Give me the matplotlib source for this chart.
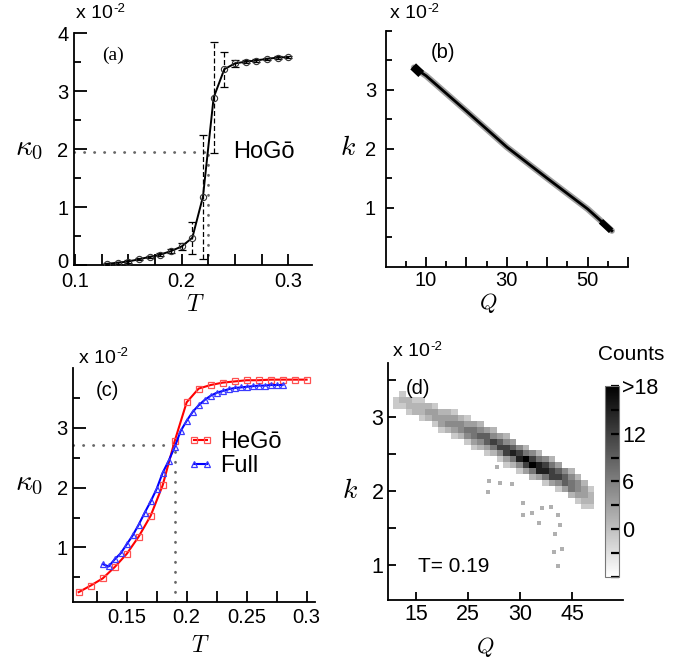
import numpy as np
import matplotlib.pyplot as plt
from matplotlib.transforms import ScaledTranslation

plt.rcParams.update({
    'font.family': ['Liberation Sans', 'DejaVu Sans'],
    'mathtext.fontset': 'cm',
    'font.size': 14.5,
})

W, H = 693, 663

# (a) HoGo: kappa_0 (x 1e-2) vs T, with error bars
t_a = [0.13, 0.14, 0.15, 0.16, 0.17, 0.18, 0.19, 0.20, 0.21,
       0.22, 0.23, 0.24, 0.25, 0.26, 0.27, 0.28, 0.29, 0.30]
kappa_a = [0.02, 0.04, 0.06, 0.10, 0.14, 0.18, 0.24, 0.32, 0.47,
           1.18, 2.89, 3.38, 3.48, 3.51, 3.53, 3.56, 3.58, 3.59]
err_a = [0.02, 0.02, 0.02, 0.02, 0.02, 0.02, 0.03, 0.06, 0.28,
         1.07, 0.96, 0.30, 0.06, 0.03, 0.02, 0.02, 0.02, 0.02]
tc_a, kc_a = 0.225, 1.95

# (b) k vs Q (x 1e-2), dense narrow band
q_b = [7.0, 10, 20, 30, 40, 50, 56.0]
k_b = [3.38, 3.24, 2.64, 2.03, 1.50, 0.98, 0.61]
head_q, head_k = [6.8, 8.8], [3.40, 3.27]
tail_q, tail_k = [53.3, 55.8], [0.77, 0.61]

# (c) HeGo vs Full model
t_hego = [0.11, 0.12, 0.13, 0.14, 0.15, 0.16, 0.17, 0.18, 0.19, 0.20,
          0.21, 0.22, 0.23, 0.24, 0.25, 0.26, 0.27, 0.28, 0.29, 0.30]
kappa_hego = [0.25, 0.36, 0.48, 0.67, 0.89, 1.18, 1.53, 2.04, 2.78, 3.43,
              3.66, 3.72, 3.76, 3.78, 3.80, 3.80, 3.81, 3.81, 3.81, 3.81]
t_full = [0.130, 0.135, 0.140, 0.145, 0.150, 0.155, 0.160, 0.165, 0.170,
          0.175, 0.180, 0.185, 0.190, 0.195, 0.200, 0.205, 0.210, 0.215,
          0.220, 0.225, 0.230, 0.235, 0.240, 0.245, 0.250, 0.255, 0.260,
          0.265, 0.270, 0.275, 0.280]
kappa_full = [0.72, 0.68, 0.80, 0.90, 1.05, 1.20, 1.38, 1.58, 1.77,
              1.98, 2.25, 2.45, 2.68, 2.95, 3.12, 3.27, 3.38, 3.47,
              3.54, 3.59, 3.62, 3.65, 3.67, 3.68, 3.69, 3.70, 3.71,
              3.71, 3.72, 3.72, 3.72]
tc_c, kc_c = 0.19, 2.71

# (d) 2D histogram of (Q, k) at T = 0.19
q_edges = 10.5 + 1.25 * np.arange(32)
k_edges = 3.35 - 0.08 * np.arange(21)
level_counts = [np.nan, -1, 1, 3, 5, 7, 9, 12, 15, 18]
# each row: (first column, levels 1-9 per cell)
band_rows = [
    (1, "1"),
    (0, "12211"),
    (0, "1122221"),
    (2, "12233221"),
    (4, "12333321"),
    (6, "13444332"),
    (7, "123455432"),
    (9, "124566432"),
    (11, "13467643"),
    (12, "123577642"),
    (14, "124787542"),
    (16, "135897542"),
    (17, "124798753"),
    (19, "135887642"),
    (21, "23577642"),
    (23, "1346542"),
    (25, "135431"),
    (27, "2332"),
    (28, "122"),
    (29, "11"),
]
out_q = [30.6, 29.1, 28.9, 31.1, 33.5, 35.5, 35.6, 37.2, 39.1, 40.9,
         42.2, 38.7, 42.6, 41.7, 41.5, 43.1, 42.3]
out_k = [2.33, 2.13, 1.99, 2.11, 2.10, 1.84, 1.68, 1.70, 1.77, 1.79,
         1.68, 1.57, 1.54, 1.42, 1.17, 1.21, 0.99]


def add_axes(fig, l, t, r, b):
    return fig.add_axes([l / W, 1 - b / H, (r - l) / W, (b - t) / H])


def style(ax):
    for s in ('top', 'right'):
        ax.spines[s].set_visible(False)
    for s in ('left', 'bottom'):
        ax.spines[s].set_linewidth(1.3)
    ax.tick_params(which='both', direction='in', width=1.3)


def ftext(fig, x, y, s, **kw):
    fig.text(x / W, 1 - y / H, s, **kw)


def sci_label(fig, x, y):
    ftext(fig, x, y, 'x 10', fontsize=14, va='baseline')
    ftext(fig, x + 37, y - 6.5, '-2', fontsize=9.5, va='baseline')


dots = dict(color='#666666', lw=2, linestyle=(0, (0.1, 3.5)),
            dash_capstyle='round', zorder=1)

fig = plt.figure(figsize=(W / 100, H / 100), dpi=100)

# ---- (a)
ax = add_axes(fig, 74, 33.3, 311.7, 265)
style(ax)
ax.plot([0.099, tc_a], [kc_a, kc_a], **dots)
ax.plot([tc_a, tc_a], [0, kc_a], **dots)
eb = ax.errorbar(t_a, kappa_a, yerr=err_a, fmt='none', ecolor='black',
                 elinewidth=0.9, capsize=3, capthick=0.9, zorder=2)
eb[2][0].set_linestyle((0, (4, 2)))
ax.plot(t_a, kappa_a, color='black', lw=1.4, marker='o', ms=4.5,
        mfc='none', mec='#333333', mew=0.8, zorder=3)
ax.set_xlim(0.099, 0.322)
ax.set_ylim(0, 4)
ax.set_xticks([0.1, 0.15, 0.2, 0.25, 0.3], ['0.1', '', '0.2', '', '0.3'])
ax.set_xticks([0.125, 0.175, 0.225, 0.275], minor=True)
ax.set_yticks([0, 1, 2, 3, 4])
ax.set_yticks([0.5, 1.5, 2.5, 3.5], minor=True)
ax.tick_params(axis='x', which='both', length=8, pad=5)
ax.tick_params(axis='y', which='major', length=9, pad=4)
ax.tick_params(axis='y', which='minor', length=5)
zero_lab = ax.get_yticklabels()[0]
zero_lab.set_transform(zero_lab.get_transform()
                       + ScaledTranslation(0, 0.05, fig.dpi_scale_trans))
ax.text(0.248, 1.95, 'HoGō', fontsize=17, ha='left', va='center')
ftext(fig, 113, 55, '(a)', fontsize=14, family='Liberation Serif',
      ha='center', va='center')
sci_label(fig, 76, 18)
ftext(fig, 29, 155, r'$\kappa_0$', fontsize=21, ha='center', va='baseline')
ftext(fig, 195, 311, r'$T$', fontsize=17, ha='center', va='baseline')

# ---- (b)
ax = add_axes(fig, 385.7, 31, 628, 266.7)
style(ax)
ax.plot(q_b, k_b, color='#a0a0a0', lw=4.5, solid_capstyle='round')
ax.plot(q_b, k_b, color='black', lw=2)
ax.plot(head_q, head_k, color='black', lw=6, solid_capstyle='butt')
ax.plot(tail_q, tail_k, color='black', lw=4.5, solid_capstyle='butt')
ax.set_xlim(0, 60)
ax.set_ylim(0, 4)
ax.set_xticks([10, 20, 30, 40, 50, 60], ['10', '', '30', '', '50', ''])
ax.set_xticks([5, 15, 25, 35, 45, 55], minor=True)
ax.set_yticks([1, 2, 3])
ax.set_yticks([0.5, 1.5, 2.5, 3.5, 4], minor=True)
ax.tick_params(axis='x', which='major', length=7, pad=3)
ax.tick_params(axis='x', which='minor', length=4)
ax.tick_params(axis='y', which='major', length=6, pad=7)
ax.tick_params(axis='y', which='minor', length=4)
ftext(fig, 443, 53, '(b)', fontsize=14.5, ha='center', va='center')
sci_label(fig, 390, 18)
ftext(fig, 348, 155, r'$k$', fontsize=20, ha='center', va='baseline')
ftext(fig, 488, 309, r'$Q$', fontsize=16, ha='center', va='baseline')

# ---- (c)
ax = add_axes(fig, 73.3, 368.3, 315, 601.7)
style(ax)
ax.plot([0.1055, tc_c], [kc_c, kc_c], **dots)
ax.plot([tc_c, tc_c], [0.09, kc_c], **dots)
ax.plot(t_hego, kappa_hego, color='red', lw=1.5, marker='s', ms=4.5,
        mfc='none', mec='#ff5050', mew=0.9, label='HeGō', zorder=3)
ax.plot(t_full, kappa_full, color='blue', lw=1.5, marker='^', ms=4.5,
        mfc='none', mec='#3a3aff', mew=0.9, label='Full', zorder=3)
ax.set_xlim(0.1055, 0.307)
ax.set_ylim(0.09, 4.0)
ax.set_xticks([0.15, 0.2, 0.25, 0.3], ['0.15', '0.2', '0.25', '0.3'])
ax.set_xticks([0.125, 0.175, 0.225, 0.275], minor=True)
ax.set_yticks([1, 2, 3])
ax.set_yticks([0.5, 1.5, 2.5, 3.5], minor=True)
ax.tick_params(axis='x', which='both', length=8, pad=4.5)
ax.tick_params(axis='y', which='major', length=9, pad=4)
ax.tick_params(axis='y', which='minor', length=5)
ax.legend(loc='center left', bbox_to_anchor=(186.7 / W, 1 - 454 / H),
          bbox_transform=fig.transFigure, frameon=False, numpoints=2,
          fontsize=17, borderpad=0, borderaxespad=0, handlelength=1.15,
          handletextpad=0.25, labelspacing=0.1)
ftext(fig, 107, 390, '(c)', fontsize=14.5, ha='center', va='center')
sci_label(fig, 79, 363)
ftext(fig, 29, 490, r'$\kappa_0$', fontsize=21, ha='center', va='baseline')
ftext(fig, 200, 652, r'$T$', fontsize=17, ha='center', va='baseline')

# ---- (d)
counts = np.full((len(k_edges) - 1, len(q_edges) - 1), np.nan)
for r, (c0, levels) in enumerate(band_rows):
    for j, ch in enumerate(levels):
        counts[r, c0 + j] = level_counts[int(ch)]

ax = add_axes(fig, 387.7, 363.3, 622.7, 600)
style(ax)
mesh = ax.pcolormesh(q_edges, k_edges, np.ma.masked_invalid(counts),
                     cmap='gray_r', vmin=-6, vmax=18, shading='flat')
ax.scatter(out_q, out_k, s=10, marker='s', color='#b0b0b0', linewidths=0)
ax.set_xlim(9.57, 54.67)
ax.set_ylim(0.524, 3.73)
ax.set_xticks([15, 25, 35, 45], ['15', '25', '30', '45'])
ax.set_yticks([1, 2, 3])
ax.set_yticks([1.5, 2.5, 3.5], minor=True)
ax.tick_params(axis='x', which='both', length=6, pad=3, labelsize=15.5)
ax.tick_params(axis='y', which='both', length=6, pad=3, labelsize=15.5)
ax.text(15.4, 0.98, 'T= 0.19', fontsize=15, ha='left', va='center')
ftext(fig, 418, 388, '(d)', fontsize=14.5, ha='center', va='center')
sci_label(fig, 393, 356)
ftext(fig, 350, 498, r'$k$', fontsize=20, ha='center', va='baseline')
ftext(fig, 485, 653, r'$Q$', fontsize=16, ha='center', va='baseline')

cax = add_axes(fig, 605, 386, 619.3, 576.7)
cb = fig.colorbar(mesh, cax=cax, ticks=np.arange(-6, 19, 3))
cb.set_ticklabels(['', '', '0', '', '6', '', '12', '', '>18'])
cb.outline.set_edgecolor('#777777')
cb.outline.set_linewidth(0.8)
cax.tick_params(direction='in', length=6, width=1.6, color='black',
                pad=2, labelsize=15.5)
ftext(fig, 631, 354, 'Counts', fontsize=15, ha='center', va='center')

fig.savefig('out.png', dpi=100)
